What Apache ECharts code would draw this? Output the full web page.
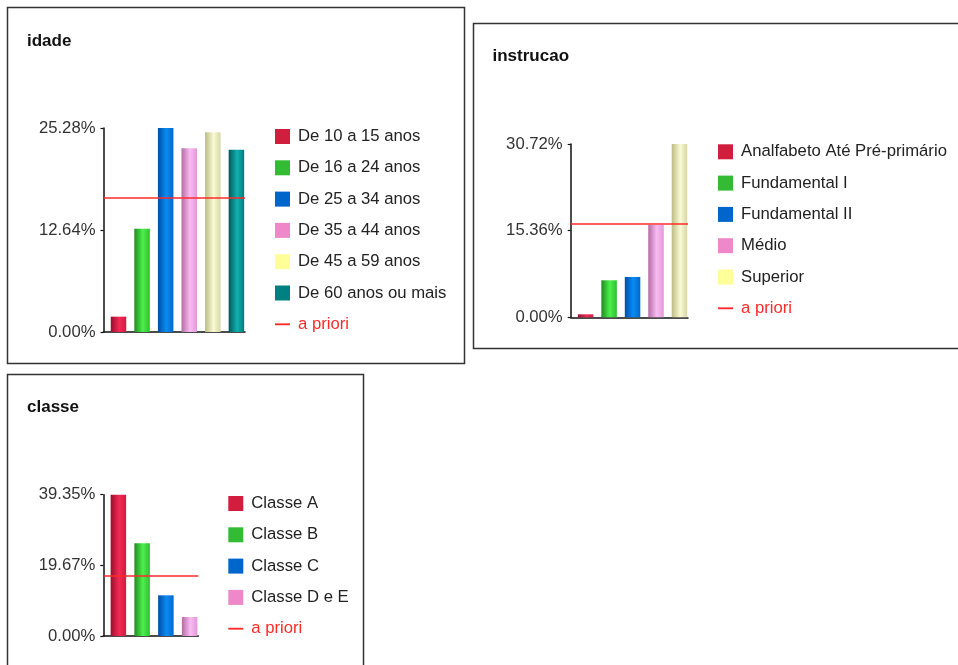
<!DOCTYPE html>
<html>
<head>
<meta charset="utf-8">
<script src="https://cdn.jsdelivr.net/npm/echarts@6/dist/echarts.min.js"></script>
<style>
  html, body { margin: 0; padding: 0; background: #fff; }
  #chart { width: 958px; height: 665px; }
</style>
</head>
<body>
<div id="chart"></div>
<script>
// ---- data -------------------------------------------------------------
const idadeCategories = ['De 10 a 15 anos', 'De 16 a 24 anos', 'De 25 a 34 anos',
                         'De 35 a 44 anos', 'De 45 a 59 anos', 'De 60 anos ou mais'];
const idadeValues = [1.9, 12.8, 25.28, 22.76, 24.75, 22.59];
const idadeApriori = 16.67;
const idadeAxisMax = 25.28;

const instrucaoCategories = ['Analfabeto Até Pré-primário', 'Fundamental I', 'Fundamental II',
                             'Médio', 'Superior'];
const instrucaoValues = [0.53, 6.56, 7.15, 16.37, 30.72];
const instrucaoApriori = 16.67;
const instrucaoAxisMax = 30.72;

const classeCategories = ['Classe A', 'Classe B', 'Classe C', 'Classe D e E'];
const classeValues = [39.35, 25.8, 11.33, 5.29];
const classeApriori = 16.67;
const classeAxisMax = 39.35;

const aprioriName = 'a priori';

// ---- styling ----------------------------------------------------------
const FONT = '"Liberation Sans", Arial, sans-serif';
const TEXT_SIZE = 16.7;
const RED = '#ff2a2a';
// flat colour for the legend swatch, and dark / light / mid stops for the shaded bar
const palette = [
  { flat: '#d21e3e', g: ['#9a0e2c', '#f22a56', '#d01c40'] },
  { flat: '#33bb33', g: ['#1e8c1e', '#4cf04c', '#2fbf2f'] },
  { flat: '#0066cc', g: ['#004ea6', '#0a8cf2', '#0066cc'] },
  { flat: '#ee88c8', g: ['#b66aa4', '#f8bcf2', '#e496d8'] },
  { flat: '#ffff99', g: ['#bcbc84', '#fafad4', '#d6d6a6'] },
  { flat: '#008080', g: ['#005a5a', '#12b0b0', '#007a7a'] }
];

function barGradient(stops) {
  return new echarts.graphic.LinearGradient(0, 0, 1, 0, [
    { offset: 0, color: stops[0] },
    { offset: 0.55, color: stops[1] },
    { offset: 1, color: stops[2] }
  ]);
}

// percentage labels are cut (not rounded) to two decimals
function pctLabel(v) {
  return (Math.floor(v * 100 + 1e-6) / 100).toFixed(2) + '%';
}

// Each panel: frame box, title spot, axis box [left, top, width, height], legend spot
const panels = [
  { title: 'idade', cats: idadeCategories, vals: idadeValues, apriori: idadeApriori, max: idadeAxisMax,
    box: [7.5, 7.5, 457, 356], titlePos: [27, 33], axis: [103.5, 128, 141.5, 204], legendPos: [275, 128] },
  { title: 'instrucao', cats: instrucaoCategories, vals: instrucaoValues, apriori: instrucaoApriori, max: instrucaoAxisMax,
    box: [473.5, 23.5, 520, 325], titlePos: [492.5, 48], axis: [570.7, 144, 117.3, 173.3], legendPos: [718, 143.3] },
  { title: 'classe', cats: classeCategories, vals: classeValues, apriori: classeApriori, max: classeAxisMax,
    box: [7.5, 374.5, 356, 320], titlePos: [27, 398.5], axis: [103.3, 494.7, 95, 141.3], legendPos: [228.3, 495] }
];
const BAR_SHIFT = 3.2;   // bars sit a little right of the axis bands
const BAR_WIDTH = 15.5;

const grid = [], xAxis = [], yAxis = [], series = [], legend = [], title = [], graphic = [];

panels.forEach((p, k) => {
  const [gl, gt, gw, gh] = p.axis;
  const ia = 2 * k, ib = 2 * k + 1;
  // visible axes grid
  grid.push({ left: gl, top: gt, width: gw, height: gh });
  // bar grid, same scale, shifted
  grid.push({ left: gl + BAR_SHIFT, top: gt, width: gw, height: gh });

  xAxis.push({
    gridIndex: ia, type: 'category', data: p.cats, boundaryGap: true,
    axisLine: { show: true, lineStyle: { color: '#111', width: 1.5 } },
    axisTick: { show: false }, axisLabel: { show: false }, splitLine: { show: false }
  });
  xAxis.push({ gridIndex: ib, type: 'category', data: p.cats, boundaryGap: true, show: false });

  yAxis.push({
    gridIndex: ia, type: 'value', min: 0, max: p.max, interval: p.max / 2,
    axisLine: { show: true, lineStyle: { color: '#111', width: 1.5 } },
    axisTick: { show: true, length: 3, lineStyle: { color: '#111', width: 1.2 } },
    splitLine: { show: false },
    axisLabel: {
      margin: 8, color: '#333', fontSize: TEXT_SIZE, fontFamily: FONT,
      formatter: pctLabel
    }
  });
  yAxis.push({ gridIndex: ib, type: 'value', min: 0, max: p.max, interval: p.max / 2, show: false });

  p.cats.forEach((name, i) => {
    series.push({
      type: 'bar', name: name, xAxisIndex: ib, yAxisIndex: ib, stack: 'panel' + k,
      barWidth: BAR_WIDTH,
      data: p.vals.map((v, j) => (j === i ? v : null)),
      itemStyle: { color: barGradient(palette[i].g) },
      emphasis: { disabled: true }
    });
  });

  series.push({
    type: 'line', name: aprioriName, xAxisIndex: ia, yAxisIndex: ia, z: 5,
    data: [], symbol: 'none', showSymbol: false,
    lineStyle: { color: RED, width: 2 }, itemStyle: { color: RED },
    markLine: {
      silent: true, symbol: 'none', label: { show: false },
      lineStyle: { color: RED, width: 1.5, type: 'solid' },
      data: [{ yAxis: p.apriori }]
    }
  });

  legend.push({
    left: p.legendPos[0], top: p.legendPos[1], orient: 'vertical', padding: 0,
    itemWidth: 15, itemHeight: 15, itemGap: 14.3, selectedMode: false,
    textStyle: { fontSize: TEXT_SIZE, fontFamily: FONT, color: '#222', lineHeight: 16, padding: [0, 0, 0, 3] },
    data: p.cats.map((name, i) => ({ name: name, icon: 'rect', itemStyle: { color: palette[i].flat } }))
      .concat([{
        name: aprioriName,
        icon: 'path://M0,0H16V2H0Z',
        itemStyle: { color: RED, borderWidth: 0 },
        textStyle: { color: RED }
      }])
  });

  title.push({
    text: p.title, left: p.titlePos[0], top: p.titlePos[1], padding: 0,
    textStyle: { fontSize: 17, fontWeight: 'bold', fontFamily: FONT, color: '#111' }
  });

  graphic.push({
    type: 'rect', silent: true,
    shape: { x: p.box[0], y: p.box[1], width: p.box[2], height: p.box[3] },
    style: { fill: 'none', stroke: '#333', lineWidth: 1.5 }
  });
});

const chart = echarts.init(document.getElementById('chart'));
chart.setOption({
  animation: false,
  backgroundColor: '#fff',
  title, grid, xAxis, yAxis, legend, series, graphic
});
</script>
</body>
</html>
